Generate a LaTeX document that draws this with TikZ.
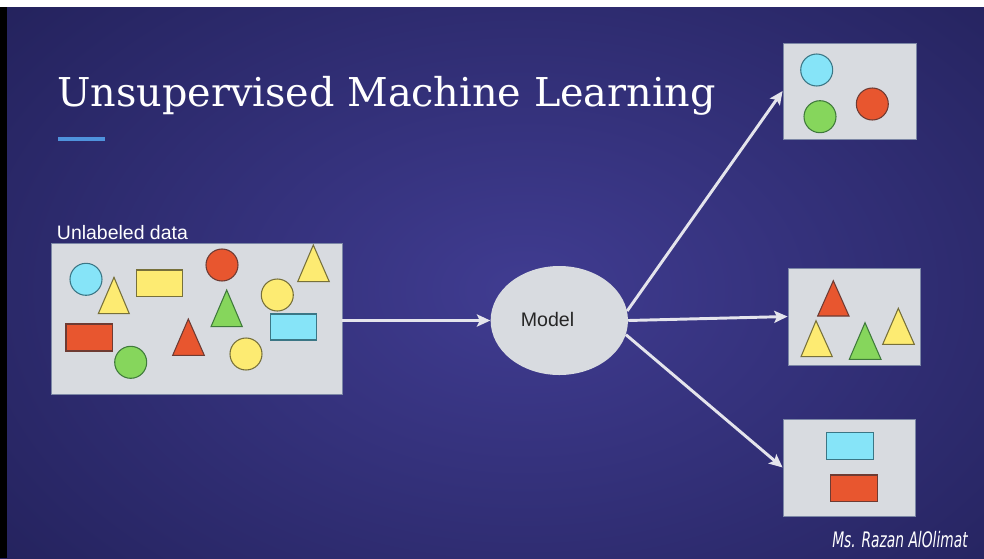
\documentclass[tikz,border=0pt]{standalone}
\usepackage{fontspec}
\setmainfont{Liberation Sans}
\newfontfamily\titlefont{DejaVu Serif}
\newfontfamily\signfont{DejaVu Sans Condensed}
\usetikzlibrary{arrows.meta,shapes.geometric}

\definecolor{bgIn}{HTML}{403C91}
\definecolor{bgOut}{HTML}{1E1D52}
\definecolor{boxFill}{HTML}{D8DBE0}
\definecolor{boxLine}{HTML}{7C87A6}
\definecolor{cyanF}{HTML}{86E4F8}
\definecolor{cyanL}{HTML}{3B7685}
\definecolor{yellowF}{HTML}{FDEB72}
\definecolor{yellowL}{HTML}{77703A}
\definecolor{redF}{HTML}{E8562F}
\definecolor{redL}{HTML}{6E3B33}
\definecolor{greenF}{HTML}{86D65C}
\definecolor{greenL}{HTML}{3F7A3B}
\definecolor{arrowC}{HTML}{E4E4EC}
\definecolor{barC}{HTML}{4F93DD}

\tikzset{
  panel/.style={fill=boxFill, draw=boxLine, line width=0.6pt, inner sep=0pt},
  cyanshape/.style={fill=cyanF, draw=cyanL, line width=0.8pt},
  yellowshape/.style={fill=yellowF, draw=yellowL, line width=0.8pt},
  redshape/.style={fill=redF, draw=redL, line width=0.8pt},
  greenshape/.style={fill=greenF, draw=greenL, line width=0.8pt},
  flow/.style={draw=arrowC, line width=2.2pt,
    -{Stealth[length=10pt, width=9pt, inset=2pt]}},
}

% triangle with apex (#2,#3), base from x=#4 to x=#5 at height #6
\newcommand{\tri}[6]{\draw[#1] (#2,#3) -- (#4,#6) -- (#5,#6) -- cycle;}

\begin{document}
\begin{tikzpicture}[x=0.75pt, y=-0.75pt]
  \useasboundingbox (0,0) rectangle (984,558);

  % background
  \shade[inner color=bgIn, outer color=bgOut] (-300,-250) rectangle (1350,830);
  \fill[white] (0,0) rectangle (984,7);
  \fill[black] (0,7) rectangle (7,558);

  % title and accent bar
  \node[anchor=base west, inner sep=0pt, text=white, font=\titlefont\fontsize{29.8}{34}\selectfont]
    (title) at (57,106.7) {Unsupervised Machine Learning};
  \fill[barC] (57.7,137.3) rectangle (105,141.3);

  % input data
  \node[anchor=base west, inner sep=0pt, text=white, font=\fontsize{14.6}{16}\selectfont]
    (lbl) at (56.7,239.5) {Unlabeled data};
  \node[panel, minimum width=218.25pt, minimum height=113.25pt] (data) at (196.5,318.5) {};

  \draw[cyanshape]   (86,279.3)    circle[radius=16];
  \tri{yellowshape}{114}{277.3}{98.3}{129.3}{313.7}
  \draw[yellowshape] (136.7,270) rectangle (182.7,296.7);
  \draw[redshape]    (222,265)     circle[radius=16];
  \tri{yellowshape}{313.3}{245}{297.7}{329.3}{281.7}
  \draw[yellowshape] (277.3,295)   circle[radius=16];
  \tri{greenshape}{226.7}{290}{211}{242.3}{326.7}
  \draw[cyanshape]   (270.7,314) rectangle (316.7,340);
  \draw[redshape]    (66,324) rectangle (112.7,351);
  \draw[greenshape]  (130.7,362.3) circle[radius=16];
  \tri{redshape}{188.3}{319}{172.7}{204.3}{355.3}
  \draw[yellowshape] (246,354)     circle[radius=16];

  % model
  \node[ellipse, fill=boxFill, inner sep=0pt, minimum width=103pt, minimum height=81.75pt]
    (model) at (559.3,320.5) {};
  \node[text=black!85, font=\fontsize{14.7}{17}\selectfont] (mlabel) at (547.5,319) {Model};

  % clusters
  \node[panel, minimum width=99.75pt, minimum height=72pt] (circles) at (849.5,91) {};
  \draw[cyanshape]  (816.7,70)    circle[radius=16];
  \draw[greenshape] (820,116.7)   circle[radius=16];
  \draw[redshape]   (872.3,104)   circle[radius=16];

  \node[panel, minimum width=99pt, minimum height=72.75pt] (triangles) at (854,316.5) {};
  \tri{redshape}{833.3}{280.7}{817.7}{849}{316}
  \tri{yellowshape}{816}{320.7}{801}{832.3}{356.7}
  \tri{greenshape}{865}{322.7}{849.3}{881}{359.3}
  \tri{yellowshape}{898.3}{308.3}{882.7}{914.3}{344.3}

  \node[panel, minimum width=99pt, minimum height=72.75pt] (rects) at (849,467.5) {};
  \draw[cyanshape] (826.7,432.7) rectangle (873.3,459.3);
  \draw[redshape]  (830.7,475) rectangle (877.3,501.7);

  % connectors
  \draw[flow] (data.east |- model.west) -- (model.west);
  \draw[flow] (model.8) -- (circles.west);
  \draw[flow] (model.east) -- (triangles.west);
  \draw[flow] (model.-12) -- (rects.west);

  % signature
  \node[anchor=base east, inner sep=0pt, text=white,
        font=\signfont\itshape\fontsize{16}{18}\selectfont]
    (sign) at (968,547) {\scalebox{0.72}[1]{Ms. Razan AlOlimat}};
\end{tikzpicture}
\end{document}
